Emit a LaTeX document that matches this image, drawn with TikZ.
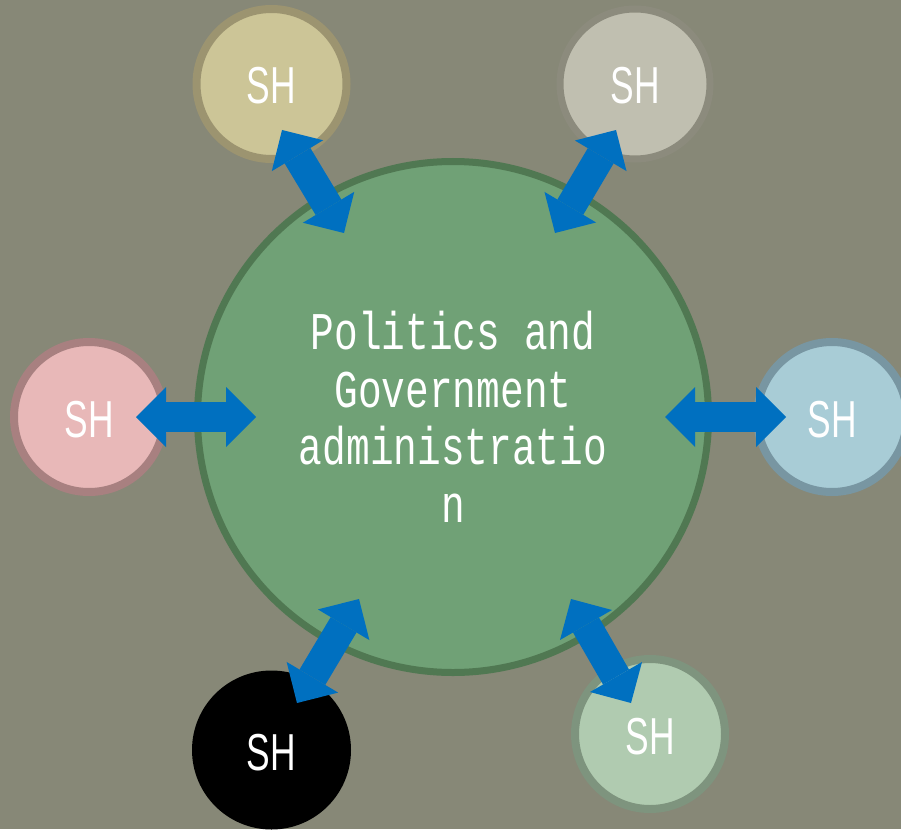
\documentclass[tikz,border=0pt]{standalone}
\usepackage{fontspec}
\usetikzlibrary{arrows.meta}
\newfontfamily\shfont[FakeStretch=0.68]{Liberation Sans}
\newfontfamily\titlefont[FakeStretch=0.745]{Liberation Mono}
\definecolor{bgc}{RGB}{135,136,119}
\definecolor{cfill}{RGB}{112,161,118}
\definecolor{cline}{RGB}{80,120,82}
\definecolor{tlfill}{RGB}{204,197,151}
\definecolor{tlline}{RGB}{156,148,112}
\definecolor{trfill}{RGB}{192,191,176}
\definecolor{trline}{RGB}{140,139,125}
\definecolor{lfill}{RGB}{232,184,184}
\definecolor{lline}{RGB}{168,128,128}
\definecolor{rfill}{RGB}{168,204,214}
\definecolor{rline}{RGB}{120,150,162}
\definecolor{brfill}{RGB}{176,203,176}
\definecolor{brline}{RGB}{126,148,126}
\definecolor{arrowblue}{RGB}{0,112,192}
\tikzset{
  sh/.style={circle, inner sep=0pt, outer sep=0pt, minimum size=150pt, line width=8pt,
    text=white, font=\shfont\fontsize{52}{60}\selectfont, text height=40pt, text depth=0pt},
  dbl/.style={draw=arrowblue, line width=30pt,
    {Triangle[length=30pt,width=60pt,line width=0pt]}-{Triangle[length=30pt,width=60pt,line width=0pt]}}
}
\begin{document}
\begin{tikzpicture}[x=1pt,y=-1pt]
\fill[bgc] (0,0) rectangle (901,829);
\useasboundingbox (0,0) rectangle (901,829);
\node[circle, inner sep=0pt, outer sep=0pt, minimum size=511pt, line width=7pt,
  draw=cline, fill=cfill, text=white, align=center,
  font=\titlefont\fontsize{53}{57.5}\selectfont] (c) at (453,417)
  {Politics and\\Government\\administratio\\n};
\node[sh, draw=tlline, fill=tlfill] (tl) at (271.5,84) {SH};
\node[sh, draw=trline, fill=trfill, line width=7pt] (tr) at (635,84) {SH};
\node[sh, draw=lline, fill=lfill] (l) at (89,417) {SH};
\node[sh, draw=rline, fill=rfill] (r) at (832,417) {SH};
\node[sh, fill=black, minimum size=159pt] (bl) at (271.5,750) {SH};
\node[sh, draw=brline, fill=brfill] (br) at (650,734) {SH};
\coordinate (tla) at (282,130); \coordinate (tlb) at (344,233);
\coordinate (tra) at (616,130); \coordinate (trb) at (555,233);
\coordinate (la) at (136,417); \coordinate (lb) at (256,417);
\coordinate (ra) at (665,417); \coordinate (rb) at (786,417);
\coordinate (bla) at (359,599); \coordinate (blb) at (297,703);
\coordinate (bra) at (571,599); \coordinate (brb) at (631,703);
\draw[dbl] (tla) -- (tlb);
\draw[dbl] (tra) -- (trb);
\draw[dbl] (la) -- (lb);
\draw[dbl] (ra) -- (rb);
\draw[dbl] (bla) -- (blb);
\draw[dbl] (bra) -- (brb);
\end{tikzpicture}
\end{document}
